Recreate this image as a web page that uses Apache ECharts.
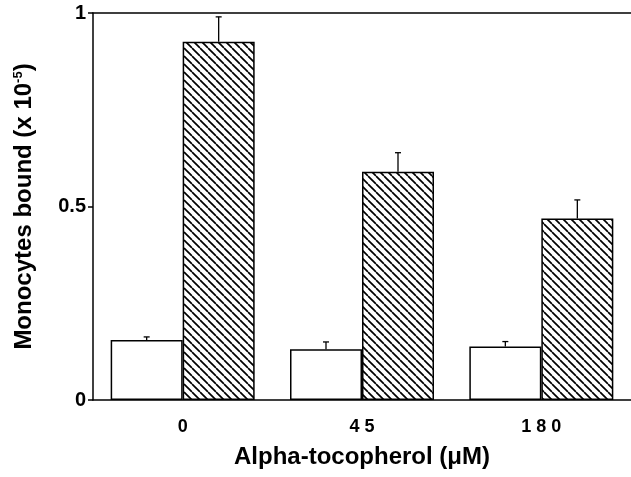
<!DOCTYPE html>
<html>
<head>
<meta charset="utf-8">
<script src="https://cdn.jsdelivr.net/npm/echarts@6/dist/echarts.min.js"></script>
<style>
	html, body { margin: 0; padding: 0; background: #fff; }
	#main { width: 631px; height: 477px; }
</style>
</head>
<body>
<div id="main"></div>
<script>
// data
const doses = ["0", "4 5", "1 8 0"];
const controlVals = [0.155, 0.131, 0.138];
const controlErr = [0.008, 0.019, 0.013];
const treatedVals = [0.926, 0.590, 0.469];
const treatedErr = [0.064, 0.049, 0.048];
const yTicks = [0, 0.5, 1];
const yTickText = ["0", "0.5", "1"];

const FONT = "Liberation Sans";

// diagonal hatch "\\\" for the treated bars
const makeHatch = () => {
	const s = 8;
	const c = document.createElement("canvas");
	c.width = s;
	c.height = s;
	const ctx = c.getContext("2d");
	ctx.fillStyle = "#fff";
	ctx.fillRect(0, 0, s, s);
	ctx.strokeStyle = "#000";
	ctx.lineWidth = 1.7;
	for (let k = -1; k <= 1; k++) {
		ctx.beginPath();
		ctx.moveTo(k * s, 0);
		ctx.lineTo(k * s + s, s);
		ctx.stroke();
	}
	return c;
};

const BAR_W = 72;

// upward error bar with small cap, offset to the bar's centre
const errorSeries = (vals, errs, offset) => ({
	type: "custom",
	z: 5,
	data: vals.map((v, i) => [i, v, v + errs[i]]),
	renderItem: (params, api) => {
		const base = api.coord([api.value(0), api.value(1)]);
		const top = api.coord([api.value(0), api.value(2)]);
		const x = base[0] + offset;
		const st = { stroke: "#000", lineWidth: 1.3 };
		return {
			type: "group",
			children: [
				{ type: "line", shape: { x1: x, y1: base[1], x2: x, y2: top[1] }, style: st },
				{ type: "line", shape: { x1: x - 3, y1: top[1], x2: x + 3, y2: top[1] }, style: st }
			]
		};
	}
});

const chart = echarts.init(document.getElementById("main"));
const option = {
	animation: false,
	backgroundColor: "#fff",
	grid: { left: 93, right: 0, top: 13, bottom: 77 },
	xAxis: [
		{
			type: "category",
			data: doses,
			name: "Alpha-tocopherol (\u03bcM)",
			nameLocation: "middle",
			nameGap: 45,
			nameTextStyle: { fontFamily: FONT, fontWeight: "bold", fontSize: 24, color: "#000" },
			axisLine: { lineStyle: { color: "#000", width: 1.5 } },
			axisTick: { show: false },
			axisLabel: { margin: 18, fontFamily: FONT, fontWeight: "bold", fontSize: 18, color: "#000" }
		},
		{
			type: "category",
			data: doses,
			position: "top",
			axisLine: { show: true, lineStyle: { color: "#000", width: 1.5 } },
			axisTick: { show: false },
			axisLabel: { show: false }
		}
	],
	yAxis: {
		type: "value",
		min: 0,
		max: 1,
		interval: 0.5,
		name: "{t|Monocytes bound (x 10}{s|-5}{t|)}",
		nameLocation: "middle",
		nameGap: 57,
		nameRotate: 90,
		nameTextStyle: {
			rich: {
				t: { fontFamily: FONT, fontWeight: "bold", fontSize: 24, color: "#000" },
				s: { fontFamily: FONT, fontWeight: "bold", fontSize: 13, color: "#000", verticalAlign: "top", padding: [0, 0, 10, 0] }
			}
		},
		splitLine: { show: false },
		axisLine: { show: true, lineStyle: { color: "#000", width: 1.5 } },
		axisTick: { show: true, length: 5, lineStyle: { color: "#000", width: 1.5 } },
		axisLabel: {
			margin: 7,
			fontFamily: FONT,
			fontWeight: "bold",
			fontSize: 20,
			color: "#000",
			formatter: (v) => {
				const i = yTicks.indexOf(v);
				return i >= 0 ? yTickText[i] : "";
			}
		}
	},
	series: [
		{
			type: "bar",
			data: controlVals,
			barWidth: BAR_W,
			barGap: "0%",
			itemStyle: { color: "#fff", borderColor: "#000", borderWidth: 1.5 }
		},
		{
			type: "bar",
			data: treatedVals,
			barWidth: BAR_W,
			barGap: "0%",
			itemStyle: { color: { image: makeHatch(), repeat: "repeat" }, borderColor: "#000", borderWidth: 1.5 }
		},
		errorSeries(controlVals, controlErr, -BAR_W / 2),
		errorSeries(treatedVals, treatedErr, BAR_W / 2)
	]
};
chart.setOption(option);
</script>
</body>
</html>
